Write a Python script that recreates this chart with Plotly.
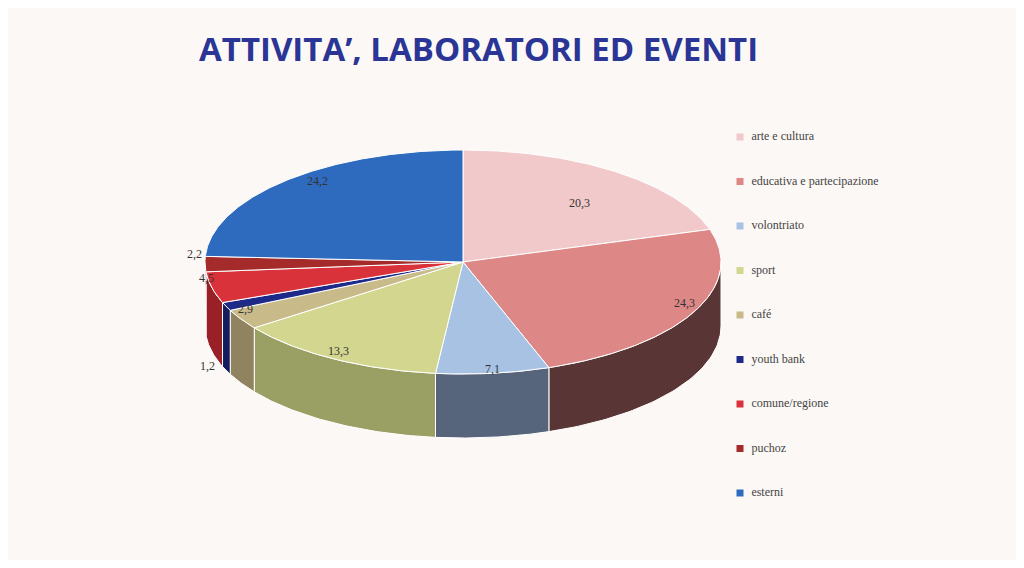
import numpy as np
import plotly.graph_objects as go

categories = ["arte e cultura", "educativa e partecipazione", "volontriato", "sport", "café",
              "youth bank", "comune/regione", "puchoz", "esterni"]
values = [20.3, 24.3, 7.1, 13.3, 2.9, 1.2, 4.5, 2.2, 24.2]
top_colors = ["#F2C9CA", "#DE8787", "#A8C2E4", "#D3D68E", "#C9BA8A",
              "#1E2A8A", "#D9323A", "#A52A2A", "#2E6BBE"]
side_colors = ["#8a6a6b", "#5A3535", "#56647c", "#9a9f63", "#8f845f",
               "#141c5c", "#9a2027", "#6e1c1c", "#1f4a85"]

# pie geometry (pixel space)
cx, cy, rx, ry, depth = 463, 262, 258, 112, 64
label_r = [0.76, 0.96, 1.0, 0.96, 0.98, 1.08, 1.02, 1.04, 0.82]
label_dy = [9, -8, -4, -4, -9, 56, -10, -10, -14]


def pt(theta_deg, f=1.0):
    t = np.radians(theta_deg)
    return cx + rx * f * np.sin(t), cy - ry * f * np.cos(t)


fig = go.Figure()
total = sum(values)
starts = np.cumsum([0] + values[:-1]) / total * 360
ends = np.cumsum(values) / total * 360

# side walls (front half only)
for a, b, col in zip(starts, ends, side_colors):
    lo, hi = max(a, 90), min(b, 270)
    if hi <= lo:
        continue
    th = np.linspace(lo, hi, 60)
    xs, ys = pt(th)
    px = list(xs) + list(xs[::-1]) + [xs[0]]
    py = list(ys) + list(ys[::-1] + depth) + [ys[0]]
    fig.add_trace(go.Scatter(x=px, y=py, fill="toself", fillcolor=col, mode="lines",
                             line=dict(color="white", width=1), hoverinfo="skip", showlegend=False))

# top faces
for a, b, col in zip(starts, ends, top_colors):
    th = np.linspace(a, b, max(int((b - a) * 2), 4))
    xs, ys = pt(th)
    px = [cx] + list(xs) + [cx]
    py = [cy] + list(ys) + [cy]
    fig.add_trace(go.Scatter(x=px, y=py, fill="toself", fillcolor=col, mode="lines",
                             line=dict(color="white", width=1), hoverinfo="skip", showlegend=False))

# data labels
for a, b, v, f, dy in zip(starts, ends, values, label_r, label_dy):
    lx, ly = pt((a + b) / 2, f)
    fig.add_annotation(x=lx, y=ly + dy, text=f"{v:.1f}".replace(".", ","), showarrow=False,
                       font=dict(family="Liberation Serif", size=12, color="#333333"))

# legend
leg_y = [137 + i * 44.5 for i in range(len(categories))]
fig.add_trace(go.Scatter(x=[740] * len(categories), y=leg_y, mode="markers+text",
                         marker=dict(symbol="square", size=7, color=top_colors),
                         text=["  " + c for c in categories], textposition="middle right",
                         textfont=dict(family="Liberation Serif", size=12, color="#444444"),
                         hoverinfo="skip", showlegend=False))

fig.add_annotation(x=478, y=48, text="<b>ATTIVITA’, LABORATORI ED EVENTI</b>", showarrow=False,
                   font=dict(family="Open Sans", size=33, color="#2A3595"))

fig.update_layout(
    width=1008, height=552, margin=dict(l=0, r=0, t=0, b=0),
    paper_bgcolor="#FCF8F5", plot_bgcolor="#FCF8F5",
    xaxis=dict(range=[8, 1016], visible=False, fixedrange=True),
    yaxis=dict(range=[560, 8], visible=False, fixedrange=True),
)
fig.write_html("out.html")
